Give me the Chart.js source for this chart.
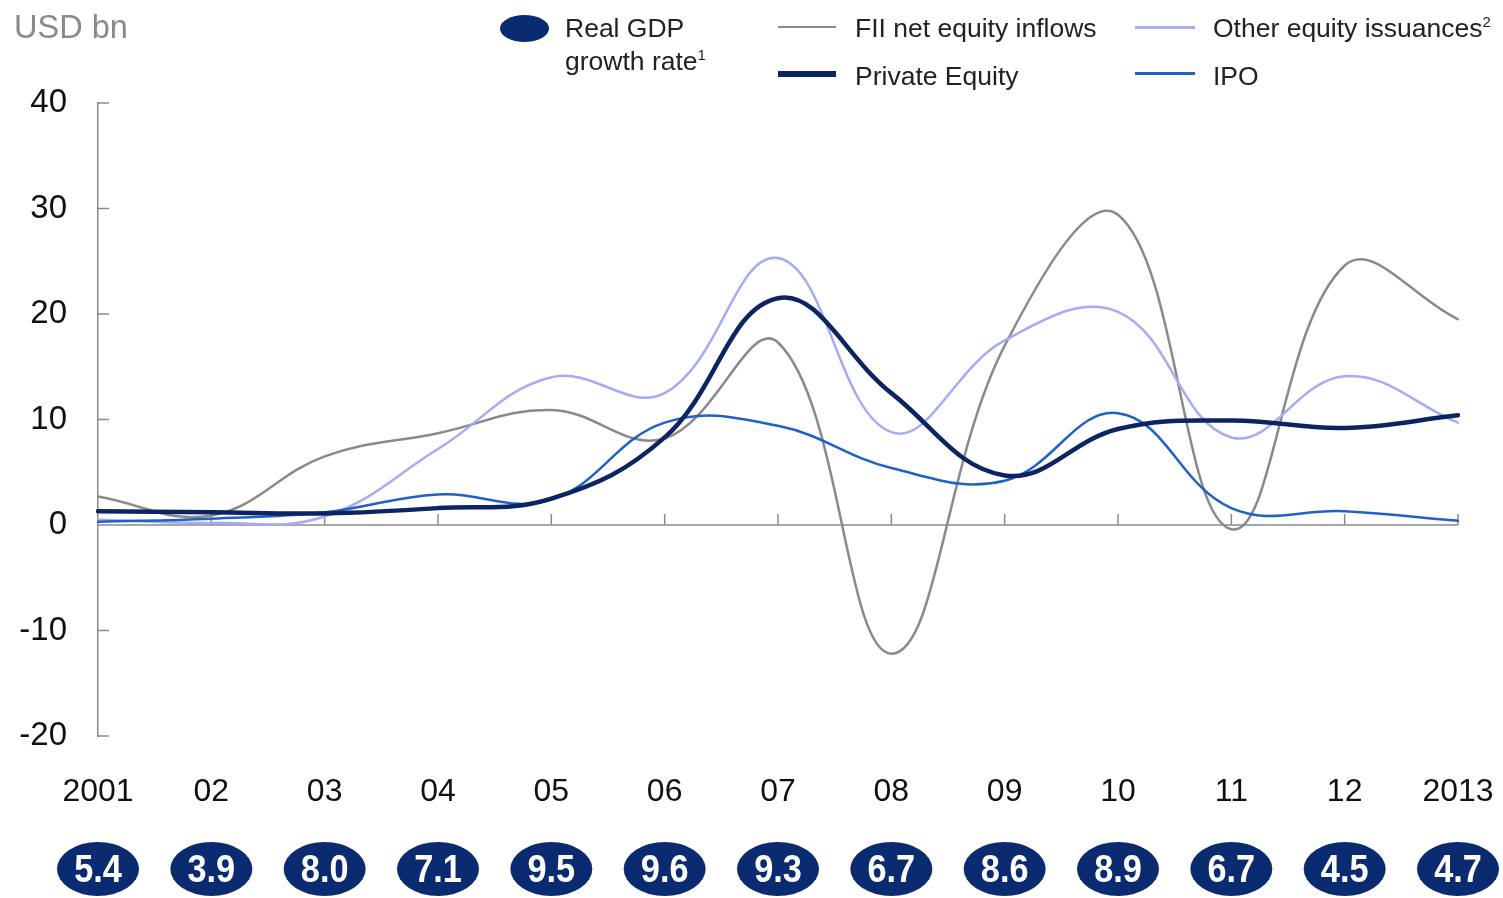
<!DOCTYPE html>
<html>
<head>
<meta charset="utf-8">
<script src="https://cdn.jsdelivr.net/npm/chart.js@4.4.1/dist/chart.umd.min.js"></script>
<style>
  html, body { margin:0; padding:0; background:#fff; }
  body { width:1503px; height:898px; position:relative; overflow:hidden; font-family:"Liberation Sans", Arial, sans-serif; }
  #wrap { position:absolute; left:0; top:0; width:1503px; height:898px; }
  .t { position:absolute; color:#222; font-size:26.5px; line-height:30px; white-space:nowrap; }
  .sw { position:absolute; }
  sup { font-size:15px; line-height:0; vertical-align:10px; }
</style>
</head>
<body>
<div id="wrap"><canvas id="c"></canvas></div>
<div class="t" style="left:14px;top:9px;font-size:32.5px;line-height:36px;color:#8a8a8a;">USD bn</div>

<div class="sw" style="left:500px;top:15px;width:49px;height:27px;border-radius:50%;background:#0a2b6f;"></div>
<div class="t" style="left:565px;top:13px;">Real GDP</div>
<div class="t" style="left:565px;top:46px;">growth rate<sup>1</sup></div>

<div class="sw" style="left:778px;top:26px;width:58px;height:2px;background:#8a8a8a;"></div>
<div class="t" style="left:855px;top:13px;">FII net equity inflows</div>
<div class="sw" style="left:778px;top:71px;width:58px;height:6px;background:#0c2461;"></div>
<div class="t" style="left:855px;top:61px;">Private Equity</div>

<div class="sw" style="left:1135px;top:26px;width:60px;height:3px;background:#a3acf4;"></div>
<div class="t" style="left:1213px;top:13px;">Other equity issuances<sup>2</sup></div>
<div class="sw" style="left:1135px;top:72px;width:60px;height:3px;background:#1e63c4;"></div>
<div class="t" style="left:1213px;top:61px;">IPO</div>

<script>
const years = ['2001','02','03','04','05','06','07','08','09','10','11','12','2013'];
const gdpGrowth = ['5.4','3.9','8.0','7.1','9.5','9.6','9.3','6.7','8.6','8.9','6.7','4.5','4.7'];
const fiiNetEquity = [2.7, 0.9, 6.5, 8.7, 10.9, 8.2, 17.3, -12.2, 17.0, 29.4, -0.4, 24.6, 19.5];
const privateEquity = [1.3, 1.2, 1.1, 1.6, 2.5, 8.3, 21.5, 12.5, 4.7, 9.1, 9.9, 9.2, 10.4];
const otherEquity = [0.5, 0.2, 0.8, 7.2, 14.0, 12.5, 25.3, 8.8, 17.5, 20.2, 8.3, 14.1, 9.7];
const ipo = [0.3, 0.6, 1.2, 2.9, 2.4, 9.7, 9.4, 5.4, 4.2, 10.6, 1.6, 1.3, 0.4];
const yTicks = [-20, -10, 0, 10, 20, 30, 40];

const AXIS = '#8a8a8a';
const NAVY = '#0a2b6f';

const deco = {
  id: 'deco',
  beforeDatasetsDraw(chart) {
    const ctx = chart.ctx, x = chart.scales.x, y = chart.scales.y;
    const y0 = y.getPixelForValue(0);
    ctx.save();
    ctx.strokeStyle = AXIS;
    ctx.lineWidth = 1.5;
    ctx.beginPath();
    ctx.moveTo(chart.chartArea.left, y0);
    ctx.lineTo(chart.chartArea.right, y0);
    for (let i = 1; i < years.length; i++) {
      const px = x.getPixelForValue(i);
      ctx.moveTo(px, y0);
      ctx.lineTo(px, y0 - 11);
    }
    for (const v of yTicks) {
      const py = y.getPixelForValue(v);
      ctx.moveTo(chart.chartArea.left, py);
      ctx.lineTo(chart.chartArea.left + 11, py);
    }
    ctx.stroke();
    ctx.restore();
  },
  afterDraw(chart) {
    const ctx = chart.ctx, x = chart.scales.x;
    ctx.save();
    for (let i = 0; i < years.length; i++) {
      const px = x.getPixelForValue(i);
      const cy = 869;
      ctx.fillStyle = NAVY;
      ctx.beginPath();
      ctx.ellipse(px, cy, 41, 27, 0, 0, Math.PI * 2);
      ctx.fill();
      ctx.save();
      ctx.translate(px, cy + 2);
      ctx.scale(0.88, 1);
      ctx.fillStyle = '#fff';
      ctx.font = 'bold 39px "Liberation Sans", Arial, sans-serif';
      ctx.textAlign = 'center';
      ctx.textBaseline = 'middle';
      ctx.fillText(gdpGrowth[i], 0, 0);
      ctx.restore();
    }
    ctx.restore();
  }
};

new Chart(document.getElementById('c'), {
  type: 'line',
  data: {
    labels: years,
    datasets: [
      { label: 'Private Equity', data: privateEquity, borderColor: '#0c2461', borderWidth: 4.5 },
      { label: 'IPO', data: ipo, borderColor: '#1e63c4', borderWidth: 2.5 },
      { label: 'Other equity issuances', data: otherEquity, borderColor: '#a3acf4', borderWidth: 2.5 },
      { label: 'FII net equity inflows', data: fiiNetEquity, borderColor: '#8a8a8a', borderWidth: 2.5 }
    ]
  },
  options: {
    responsive: true,
    maintainAspectRatio: false,
    animation: false,
    layout: { padding: { top: 103, right: 45, bottom: 0, left: 0 } },
    elements: {
      point: { radius: 0, hoverRadius: 0 },
      line: { tension: 0.4, fill: false, borderCapStyle: 'round', borderJoinStyle: 'round' }
    },
    plugins: { legend: { display: false }, tooltip: { enabled: false } },
    scales: {
      x: {
        type: 'category',
        offset: false,
        grid: { display: false },
        border: { display: false },
        ticks: {
          autoSkip: false, maxRotation: 0, padding: 29,
          color: '#111',
          font: { family: '"Liberation Sans", Arial, sans-serif', size: 32 }
        },
        afterFit(s) { s.height = 162; s.paddingLeft = 0; s.paddingRight = 0; }
      },
      y: {
        min: -20, max: 40,
        grid: { display: false },
        border: { display: true, color: AXIS, width: 1.5 },
        ticks: {
          stepSize: 10, padding: 23,
          color: '#111',
          font: { family: '"Liberation Sans", Arial, sans-serif', size: 33 }
        },
        afterFit(s) { s.width = 98; s.paddingTop = 0; s.paddingBottom = 0; }
      }
    }
  },
  plugins: [deco]
});
</script>
</body>
</html>
